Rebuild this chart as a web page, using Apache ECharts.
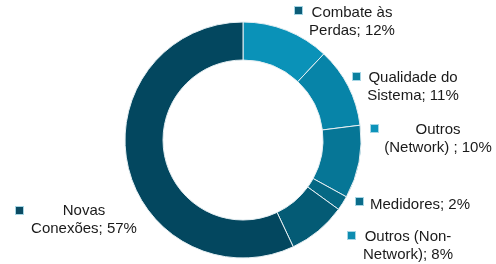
<!DOCTYPE html>
<html>
<head>
<meta charset="utf-8">
<script src="https://cdn.jsdelivr.net/npm/echarts@6/dist/echarts.min.js"></script>
<style>
  html, body { margin: 0; padding: 0; background: #fff; }
  #chart { width: 496px; height: 264px; }
</style>
</head>
<body>
<div id="chart"></div>
<script>
// dados do gráfico (fatias no sentido horário a partir do topo)
var categorias = ["Combate às\nPerdas", "Qualidade do\nSistema", "Outros\n(Network) ", "Medidores", "Outros (Non-\nNetwork)", "Novas\nConexões"];
var valores = [12, 11, 10, 2, 8, 57];

// estilos
var coresFatia = ["#0a92b8", "#0784a8", "#067696", "#056884", "#045b75", "#03475f"];
var coresMarca = ["#0c5d78", "#0b809f", "#0d93ba", "#0b6c8a", "#0d8cb0", "#0b4b63"];
// posição do texto (centro, topo) e das marcas (canto sup. esq.)
var posTexto = [[352, 4], [413, 69], [438, 121], [420, 196], [408, 228], [84, 202]];
var posMarca = [[295, 7], [353, 73], [371, 125], [356, 198], [348, 232], [16, 207]];

var myChart = echarts.init(document.getElementById("chart"));

var dadosPie = [], dadosMarca = [];
for (var i = 0; i < categorias.length; i++) {
  dadosPie.push({ name: categorias[i], value: valores[i], itemStyle: { color: coresFatia[i] } });
  dadosMarca.push({
    name: categorias[i], value: valores[i],
    label: {
      formatter: "{m| }",
      rich: { m: { width: 7, height: 7, backgroundColor: coresMarca[i], borderColor: "#a6d6e5", borderWidth: 1 } }
    }
  });
}

var option = {
  animation: false,
  series: [
    {
      type: "pie",
      center: [243, 140],
      radius: [80, 118],
      startAngle: 90,
      clockwise: true,
      silent: true,
      avoidLabelOverlap: false,
      itemStyle: { borderColor: "#e4eef2", borderWidth: 1 },
      label: {
        show: true,
        position: "outside",
        color: "#1a1a1a",
        fontFamily: "Liberation Sans, Arial, sans-serif",
        fontSize: 15,
        lineHeight: 18,
        align: "center",
        formatter: function (p) { return p.name + "; " + p.value + "%"; }
      },
      labelLine: { show: false },
      labelLayout: function (p) {
        var pt = posTexto[p.dataIndex];
        return { x: pt[0], y: pt[1], align: "center", verticalAlign: "top", hideOverlap: false };
      },
      data: dadosPie
    },
    {
      type: "pie",
      center: [243, 140],
      radius: [80, 118],
      startAngle: 90,
      clockwise: true,
      silent: true,
      avoidLabelOverlap: false,
      itemStyle: { color: "rgba(0,0,0,0)" },
      label: { show: true, position: "outside" },
      labelLine: { show: false },
      labelLayout: function (p) {
        var pt = posMarca[p.dataIndex];
        return { x: pt[0], y: pt[1], align: "left", verticalAlign: "top", hideOverlap: false };
      },
      data: dadosMarca
    }
  ]
};

myChart.setOption(option);
</script>
</body>
</html>
